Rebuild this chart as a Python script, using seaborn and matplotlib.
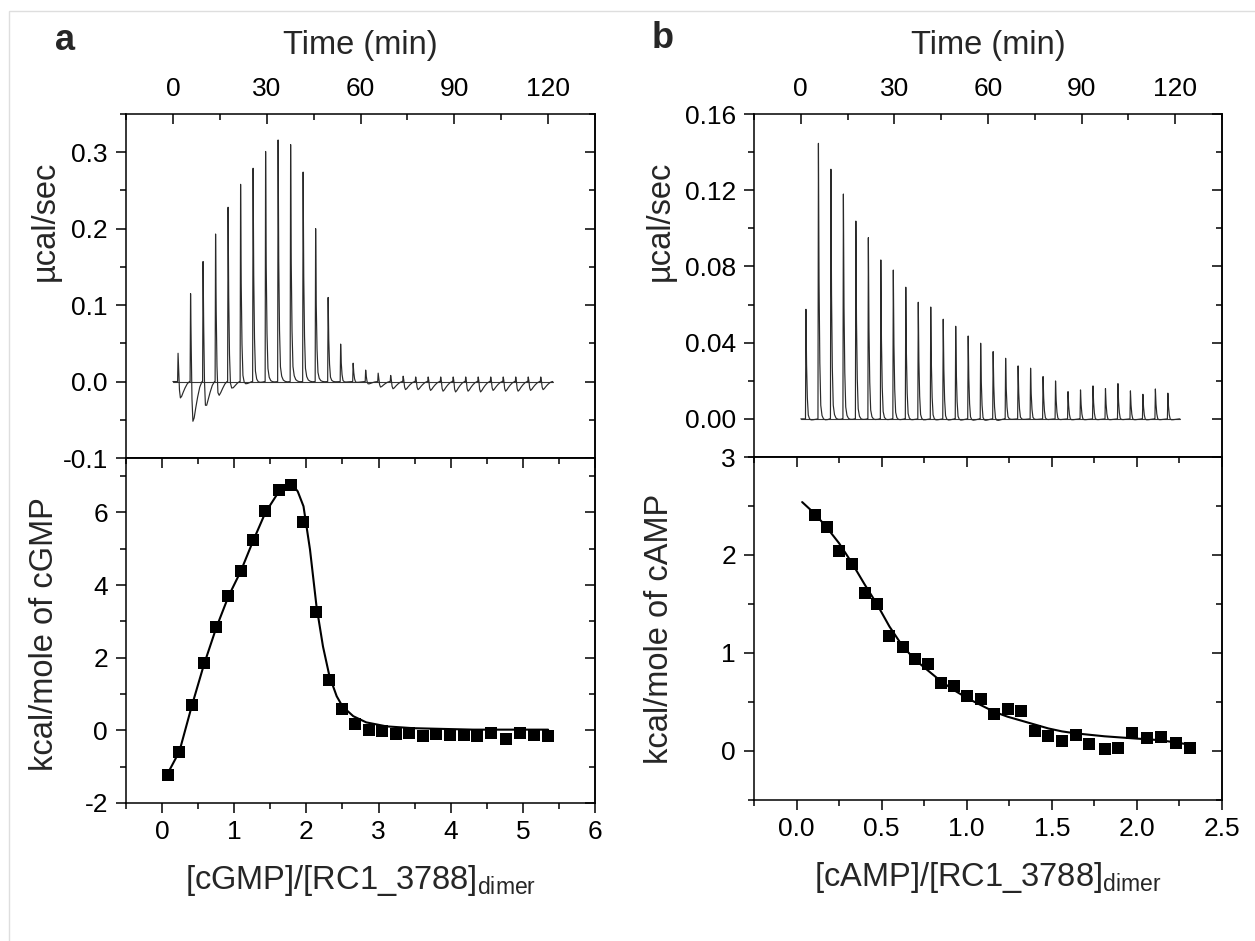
import matplotlib
matplotlib.use("Agg")
import matplotlib.pyplot as plt
import pandas as pd
import seaborn as sns
from matplotlib.patches import Rectangle
from matplotlib.ticker import FormatStrFormatter, MultipleLocator

# injection schedule (min), same for both runs
INJECTION_TIMES = [1.5, 5.5, 9.5, 13.5, 17.5, 21.5, 25.5, 29.5, 33.5, 37.5,
                   41.5, 45.5, 49.5, 53.5, 57.5, 61.5, 65.5, 69.5, 73.5, 77.5,
                   81.5, 85.5, 89.5, 93.5, 97.5, 101.5, 105.5, 109.5, 113.5, 117.5]
RUN_END = 121.5

# raw heat peaks (ucal/sec): positive spike height and following dip depth
CGMP_PEAKS = [0.037, 0.115, 0.157, 0.193, 0.228, 0.258, 0.279, 0.301, 0.316, 0.310,
              0.274, 0.200, 0.110, 0.049, 0.024, 0.015, 0.011, 0.008, 0.007, 0.006,
              0.006, 0.006, 0.006, 0.006, 0.006, 0.006, 0.006, 0.006, 0.006, 0.006]
CGMP_DIPS = [0.024, 0.060, 0.042, 0.028, 0.018, 0.010, 0.006, 0.004, 0.003, 0.002,
             0.002, 0.002, 0.002, 0.002, 0.002, 0.004, 0.008, 0.010, 0.011, 0.011,
             0.012, 0.013, 0.014, 0.013, 0.014, 0.012, 0.013, 0.013, 0.012, 0.011]
CAMP_PEAKS = [0.0575, 0.1446, 0.131, 0.118, 0.1038, 0.0951, 0.0834, 0.0781, 0.0691, 0.0612,
              0.0587, 0.0523, 0.0486, 0.0435, 0.0397, 0.0353, 0.0318, 0.0278, 0.0266, 0.0222,
              0.0199, 0.0143, 0.0152, 0.0173, 0.0159, 0.0185, 0.0147, 0.0129, 0.0157, 0.0135]
CAMP_DIPS = [0.002, 0.003, 0.002, 0.002, 0.002, 0.002, 0.002, 0.002, 0.002, 0.002,
             0.002, 0.002, 0.002, 0.002, 0.002, 0.002, 0.001, 0.001, 0.001, 0.001,
             0.001, 0.001, 0.001, 0.001, 0.001, 0.001, 0.001, 0.001, 0.001, 0.001]

# integrated heats (kcal/mol of injectant) and model fit
CGMP_RATIO = [0.08, 0.24, 0.41, 0.58, 0.75, 0.92, 1.09, 1.26, 1.43, 1.62,
              1.79, 1.96, 2.14, 2.32, 2.50, 2.68, 2.87, 3.05, 3.24, 3.42,
              3.61, 3.80, 3.99, 4.18, 4.37, 4.56, 4.76, 4.96, 5.15, 5.35]
CGMP_HEAT = [-1.23, -0.60, 0.69, 1.86, 2.86, 3.71, 4.39, 5.24, 6.03, 6.63,
             6.75, 5.73, 3.25, 1.38, 0.59, 0.18, 0.00, -0.01, -0.11, -0.07,
             -0.15, -0.10, -0.13, -0.12, -0.16, -0.08, -0.24, -0.08, -0.14, -0.15]
CGMP_FIT_X = [0.08, 0.24, 0.41, 0.58, 0.75, 0.92, 1.09, 1.26, 1.43, 1.62, 1.79, 1.88,
              1.96, 2.05, 2.14, 2.23, 2.32, 2.42, 2.50, 2.65, 2.83, 3.11, 3.48, 4.31, 5.35]
CGMP_FIT_Y = [-1.18, -0.58, 0.66, 1.81, 2.82, 3.69, 4.38, 5.21, 5.99, 6.58, 6.81, 6.58,
              6.17, 4.98, 3.42, 2.31, 1.49, 0.94, 0.66, 0.39, 0.22, 0.11, 0.06, 0.02, 0.02]

CAMP_RATIO = [0.108, 0.178, 0.250, 0.325, 0.400, 0.472, 0.546, 0.623, 0.697, 0.773,
              0.850, 0.926, 1.002, 1.081, 1.161, 1.240, 1.320, 1.400, 1.480, 1.560,
              1.640, 1.720, 1.810, 1.890, 1.970, 2.060, 2.140, 2.230, 2.310]
CAMP_HEAT = [2.41, 2.29, 2.04, 1.91, 1.61, 1.50, 1.17, 1.06, 0.94, 0.89,
             0.69, 0.66, 0.56, 0.53, 0.38, 0.43, 0.41, 0.20, 0.15, 0.10,
             0.16, 0.07, 0.02, 0.03, 0.18, 0.13, 0.14, 0.08, 0.03]
CAMP_FIT_X = [0.033, 0.108, 0.178, 0.250, 0.325, 0.400, 0.472, 0.546, 0.623, 0.697,
              0.773, 0.850, 0.926, 1.002, 1.081, 1.161, 1.240, 1.320, 1.400, 1.480,
              1.560, 1.640, 1.810, 1.970, 2.140, 2.330]
CAMP_FIT_Y = [2.54, 2.42, 2.28, 2.12, 1.92, 1.70, 1.50, 1.27, 1.07, 0.93,
              0.82, 0.71, 0.62, 0.54, 0.47, 0.40, 0.35, 0.31, 0.27, 0.23,
              0.20, 0.18, 0.15, 0.13, 0.11, 0.06]

# glyph of one injection peak: offsets after injection (min), relative spike and dip
PEAK_OFFSETS = [0.0, 0.15, 0.35, 0.6, 0.9, 1.3, 1.8, 2.4, 3.1, 3.8]
PEAK_RISE = [0.0, 1.0, 0.5, 0.22, 0.07, 0.03, 0.012, 0.004, 0.0, 0.0]
PEAK_DIP = [0.0, 0.0, -0.15, -0.8, -1.0, -0.85, -0.6, -0.35, -0.12, 0.0]

TICK_SIZE = 19
LABEL_SIZE = 23.5
SPINE_W = 1.1
MAJOR_LEN = 7.0
MINOR_LEN = 4.2


def build_trace(peaks, dips):
    rows = [(0.0, 0.0)]
    for t0, h, d in zip(INJECTION_TIMES, peaks, dips):
        for off, p, n in zip(PEAK_OFFSETS, PEAK_RISE, PEAK_DIP):
            rows.append((t0 + off, h * p + d * n))
    rows.append((RUN_END, 0.0))
    return pd.DataFrame(rows, columns=["time", "power"])


def add_inner_ticks(ax, side, major, minor):
    if side == "right":
        sec = ax.secondary_yaxis("right")
        sec.yaxis.set_major_locator(MultipleLocator(major))
        sec.yaxis.set_minor_locator(MultipleLocator(minor))
        sec.tick_params(axis="y", which="both", direction="in", labelright=False, width=SPINE_W)
    else:
        sec = ax.secondary_xaxis("top")
        sec.xaxis.set_major_locator(MultipleLocator(major))
        sec.xaxis.set_minor_locator(MultipleLocator(minor))
        sec.tick_params(axis="x", which="both", direction="in", labeltop=False, width=SPINE_W)
    sec.tick_params(which="major", length=MAJOR_LEN)
    sec.tick_params(which="minor", length=MINOR_LEN)
    for sp in sec.spines.values():
        sp.set_linewidth(SPINE_W)


def draw_thermogram(ax, trace, ylim, ymajor, yminor, yfmt, ylabel_pos):
    ax.plot([0, RUN_END], [0, 0], color="#3a3a3a", lw=0.8)
    sns.lineplot(data=trace, x="time", y="power", sort=False, estimator=None,
                 color="#2a2a2a", lw=0.85, ax=ax)
    ax.set_xlim(-15, 135)
    ax.set_ylim(*ylim)
    ax.xaxis.set_major_locator(MultipleLocator(30))
    ax.xaxis.set_minor_locator(MultipleLocator(15))
    ax.xaxis.tick_top()
    ax.xaxis.set_label_position("top")
    ax.tick_params(axis="x", which="both", direction="in", top=True, bottom=False,
                   labeltop=True, labelbottom=False, labelsize=TICK_SIZE, pad=9, width=SPINE_W)
    ax.yaxis.set_major_locator(MultipleLocator(ymajor))
    ax.yaxis.set_minor_locator(MultipleLocator(yminor))
    ax.yaxis.set_major_formatter(FormatStrFormatter(yfmt))
    ax.tick_params(axis="y", which="both", direction="out", left=True, right=False,
                   labelsize=TICK_SIZE, pad=6, width=SPINE_W)
    ax.tick_params(which="major", length=MAJOR_LEN)
    ax.tick_params(which="minor", length=MINOR_LEN)
    add_inner_ticks(ax, "right", ymajor, yminor)
    ax.set_xlabel("Time (min)", fontsize=LABEL_SIZE, labelpad=17)
    ax.set_ylabel("\u00b5cal/sec", fontsize=LABEL_SIZE)
    ax.yaxis.set_label_coords(*ylabel_pos)


def draw_isotherm(ax, ratio, heat, fit_x, fit_y, xlim, xmajor, xminor, xfmt,
                  ylim, ymajor, yminor, xlabel, ylabel, ylabel_pos):
    sns.lineplot(x=fit_x, y=fit_y, sort=False, estimator=None, color="black", lw=1.5, ax=ax)
    sns.scatterplot(x=ratio, y=heat, marker="s", s=80, color="black", edgecolor="black",
                    linewidth=0, ax=ax, zorder=3)
    ax.set_xlim(*xlim)
    ax.set_ylim(*ylim)
    ax.xaxis.set_major_locator(MultipleLocator(xmajor))
    ax.xaxis.set_minor_locator(MultipleLocator(xminor))
    ax.xaxis.set_major_formatter(FormatStrFormatter(xfmt))
    ax.yaxis.set_major_locator(MultipleLocator(ymajor))
    ax.yaxis.set_minor_locator(MultipleLocator(yminor))
    ax.yaxis.set_major_formatter(FormatStrFormatter("%d"))
    ax.tick_params(axis="both", which="both", direction="out", top=False, right=False,
                   labelsize=TICK_SIZE, width=SPINE_W)
    ax.tick_params(axis="x", pad=5)
    ax.tick_params(axis="y", pad=6)
    ax.tick_params(which="major", length=MAJOR_LEN)
    ax.tick_params(which="minor", length=MINOR_LEN)
    add_inner_ticks(ax, "right", ymajor, yminor)
    add_inner_ticks(ax, "top", xmajor, xminor)
    ax.set_xlabel(xlabel + r"$_{\mathregular{dimer}}$", fontsize=LABEL_SIZE, labelpad=14)
    ax.set_ylabel(ylabel, fontsize=LABEL_SIZE)
    ax.yaxis.set_label_coords(*ylabel_pos)


def main() -> None:
    sns.set_theme(style="ticks")
    plt.rcParams["font.family"] = ["Liberation Sans", "DejaVu Sans"]
    plt.rcParams["mathtext.fontset"] = "custom"
    plt.rcParams["mathtext.rm"] = "Liberation Sans"
    plt.rcParams["axes.unicode_minus"] = False
    plt.rcParams["axes.linewidth"] = SPINE_W
    plt.rcParams["axes.edgecolor"] = "black"
    plt.rcParams["xtick.color"] = "black"
    plt.rcParams["ytick.color"] = "black"

    W, H = 1255, 941
    fig = plt.figure(figsize=(W / 100, H / 100), dpi=100)

    def box(left, right, top, bottom):
        return [left / W, 1 - bottom / H, (right - left) / W, (bottom - top) / H]

    ax_a_top = fig.add_axes(box(126, 595, 114, 458))
    ax_a_bot = fig.add_axes(box(126, 595, 458, 803))
    ax_b_top = fig.add_axes(box(754, 1222, 114, 457))
    ax_b_bot = fig.add_axes(box(754, 1222, 457, 800))

    draw_thermogram(ax_a_top, build_trace(CGMP_PEAKS, CGMP_DIPS), (-0.1, 0.35),
                    0.1, 0.05, "%.1f", (-0.14, 0.69))
    draw_thermogram(ax_b_top, build_trace(CAMP_PEAKS, CAMP_DIPS), (-0.02, 0.16),
                    0.04, 0.02, "%.2f", (-0.168, 0.69))

    draw_isotherm(ax_a_bot, CGMP_RATIO, CGMP_HEAT, CGMP_FIT_X, CGMP_FIT_Y,
                  (-0.5, 6), 1, 0.5, "%d", (-2, 7.5), 2, 1,
                  "[cGMP]/[RC1_3788]", "kcal/mole of cGMP", (-0.14, 0.49))
    draw_isotherm(ax_b_bot, CAMP_RATIO, CAMP_HEAT, CAMP_FIT_X, CAMP_FIT_Y,
                  (-0.25, 2.5), 0.5, 0.25, "%.1f", (-0.5, 3), 1, 0.5,
                  "[cAMP]/[RC1_3788]", "kcal/mole of cAMP", (-0.168, 0.5))

    fig.text(65 / W, 1 - 40 / H, "a", fontsize=26, fontweight="bold", ha="center", va="center")
    fig.text(663 / W, 1 - 38 / H, "b", fontsize=26, fontweight="bold", ha="center", va="center")

    fig.patches.append(Rectangle((9 / W, -0.1), 1.2, 1.1 - 11 / H, transform=fig.transFigure,
                                 fill=False, edgecolor="#dedede", lw=1.0))

    fig.savefig("out.png", dpi=100)
    plt.close(fig)


if __name__ == "__main__":
    main()
